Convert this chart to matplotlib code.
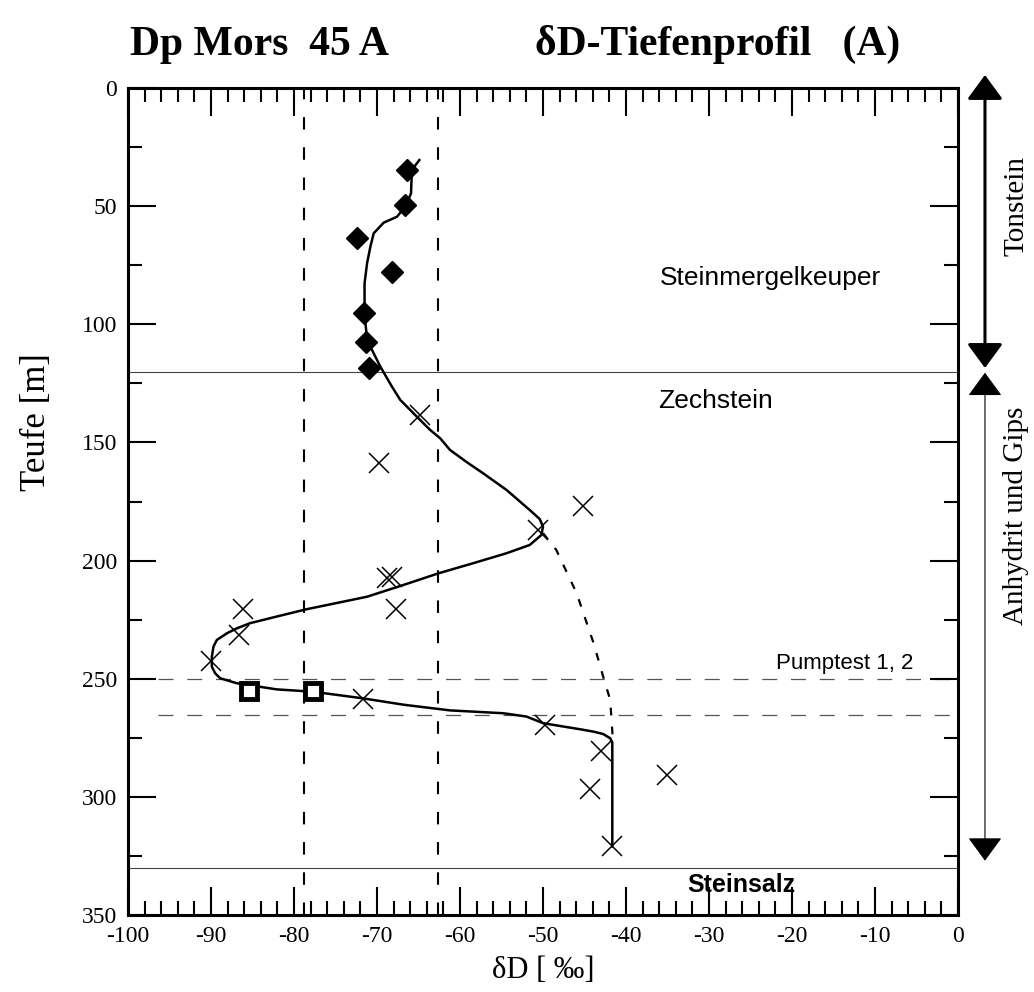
import matplotlib.pyplot as plt
from matplotlib.ticker import MultipleLocator

plt.rcParams['axes.unicode_minus'] = False

# measured points (delta D in permil, depth in m)
dia_x = [-66.4, -66.6, -72.4, -68.2, -71.6, -71.3, -71.0]
dia_y = [34.7, 49.5, 63.6, 77.7, 95.3, 107.4, 118.6]

crs_x = [-64.8, -69.8, -45.2, -50.6, -68.8, -68.2, -67.7, -86.2, -86.6, -90.0,
         -71.65, -49.8, -43.05, -44.3, -35.1, -41.7]
crs_y = [138.4, 158.8, 176.8, 187.1, 207.5, 206.8, 220.5, 220.5, 231.5, 242.3,
         258.6, 269.6, 280.4, 296.8, 290.7, 320.8]

sq_x = [-85.4, -77.7]
sq_y = [255.2, 255.2]

# fitted profile
curve_x = [-64.9, -65.8, -65.9, -66.6, -67.6, -69.2, -70.4, -70.8, -71.2, -71.5,
           -71.5, -71.2, -70.6, -69.6, -68.2, -67.2, -65.2, -63.6, -62.4, -61.2,
           -59.2, -57.2, -54.4, -51.6, -50.4, -50.0, -50.2, -51.6, -54.4, -58.4,
           -62.6, -66.8, -71.2, -78.5, -82.1, -85.3, -86.9, -88.1, -89.3, -89.7,
           -89.9, -89.9, -89.5, -88.9, -86.9, -82.1, -77.7, -71.7, -66.8, -61.2,
           -54.8, -52.0, -50.0, -47.95, -45.5, -43.9, -42.75, -41.9, -41.65, -41.65]
curve_y = [30.5, 34.7, 44.6, 50.2, 54.5, 57.0, 61.5, 67.2, 74.2, 82.7,
           95.3, 106.6, 110.9, 117.9, 126.4, 132.0, 139.1, 144.7, 148.2, 153.2,
           158.3, 163.1, 170.1, 178.6, 182.4, 185.6, 189.2, 193.4, 196.9, 201.1,
           205.4, 210.3, 215.3, 220.6, 223.7, 226.5, 228.7, 230.8, 233.6, 236.4,
           240.7, 244.9, 247.7, 249.8, 251.9, 254.5, 255.5, 258.3, 261.0, 263.4,
           264.6, 266.0, 268.8, 270.0, 271.4, 272.4, 273.4, 275.2, 277.0, 321.0]

alt_x = [-50.0, -48.4, -45.95, -43.9, -42.8, -41.9, -41.6]
alt_y = [188.4, 195.5, 213.8, 235.0, 248.5, 259.0, 275.0]

vlines = [-78.8, -62.7]
hlines_solid = [120, 330]
hlines_pump = [250, 265.5]

serif = 'Liberation Serif'
sans = 'Liberation Sans'

fig = plt.figure(figsize=(10.34, 9.92), dpi=100)
ax = fig.add_axes([0.1238, 0.0776, 0.8027, 0.8337])

for v in vlines:
    ax.axvline(v, color='black', lw=1.5, ls=(0, (6, 8.5)), zorder=1)
for h in hlines_solid:
    ax.axhline(h, color='#444444', lw=0.8, zorder=1)
for h in hlines_pump:
    ax.plot([-96.4, 0], [h, h], color='#555555', lw=0.9, ls=(0, (12, 11)), zorder=1)

ax.plot(alt_x, alt_y, color='black', lw=1.6, ls=(0, (3.5, 5)), zorder=2)
ax.plot(curve_x, curve_y, color='black', lw=1.8, zorder=3)
ax.plot(crs_x, crs_y, ls='none', marker='x', ms=15, mew=1.1, color='black', zorder=4)
ax.plot(dia_x, dia_y, ls='none', marker='D', ms=11, color='black', zorder=4)
ax.plot(sq_x, sq_y, ls='none', marker='s', ms=12, mew=3.5, mfc='white', mec='black', zorder=4)

ax.text(-22.6, 80.5, 'Steinmergelkeuper', family=sans, fontsize=19, ha='center', va='center')
ax.text(-29.2, 132.5, 'Zechstein', family=sans, fontsize=19, ha='center', va='center')
ax.text(-13.6, 243.5, 'Pumptest 1, 2', family=sans, fontsize=16, ha='center', va='center')
ax.text(-26.1, 337.3, 'Steinsalz', family=sans, fontsize=18, fontweight='bold', ha='center', va='center')

ax.set_xlim(-100, 0)
ax.set_ylim(350, 0)
ax.xaxis.set_major_locator(MultipleLocator(10))
ax.xaxis.set_minor_locator(MultipleLocator(2))
ax.yaxis.set_major_locator(MultipleLocator(50))
ax.yaxis.set_minor_locator(MultipleLocator(25))
ax.tick_params(which='both', direction='in', top=True, right=True, width=1.5, labelsize=17)
ax.tick_params(which='major', length=20, pad=8)
ax.tick_params(which='minor', length=10)
for lab in ax.get_xticklabels() + ax.get_yticklabels():
    lab.set_family(serif)
for s in ax.spines.values():
    s.set_linewidth(2.2)

ax.set_xlabel('δD [ ‰]', family=serif, fontsize=22)
ax.set_ylabel('Teufe [m]', family=serif, fontsize=25)
ax.xaxis.set_label_coords(0.5, -0.05)
ax.yaxis.set_label_coords(-0.09, 0.596)

# stratigraphy arrows at the right
tr = ax.get_yaxis_transform()
ax.annotate('', xy=(1.0325, -5.5), xytext=(1.0325, 118.5), xycoords=tr, textcoords=tr,
            arrowprops=dict(arrowstyle='<|-|>,head_length=0.75,head_width=0.55',
                            mutation_scale=20, lw=2.2, color='black', shrinkA=0, shrinkB=0))
ax.annotate('', xy=(1.0325, 120.5), xytext=(1.0325, 327), xycoords=tr, textcoords=tr,
            arrowprops=dict(arrowstyle='<|-|>,head_length=0.75,head_width=0.55',
                            mutation_scale=20, lw=0.8, color='black', shrinkA=0, shrinkB=0))
ax.text(1.07, 50, 'Tonstein', transform=tr, family=serif, fontsize=21, rotation=90,
        ha='center', va='center')
ax.text(1.07, 181, 'Anhydrit und Gips', transform=tr, family=serif, fontsize=21, rotation=90,
        ha='center', va='center')

fig.text(0.126, 0.955, 'Dp Mors  45 A', family=serif, fontsize=30, fontweight='bold', va='center')
fig.text(0.517, 0.955, 'δD-Tiefenprofil   (A)', family=serif, fontsize=30, fontweight='bold', va='center')

fig.savefig('out.png', dpi=100)
